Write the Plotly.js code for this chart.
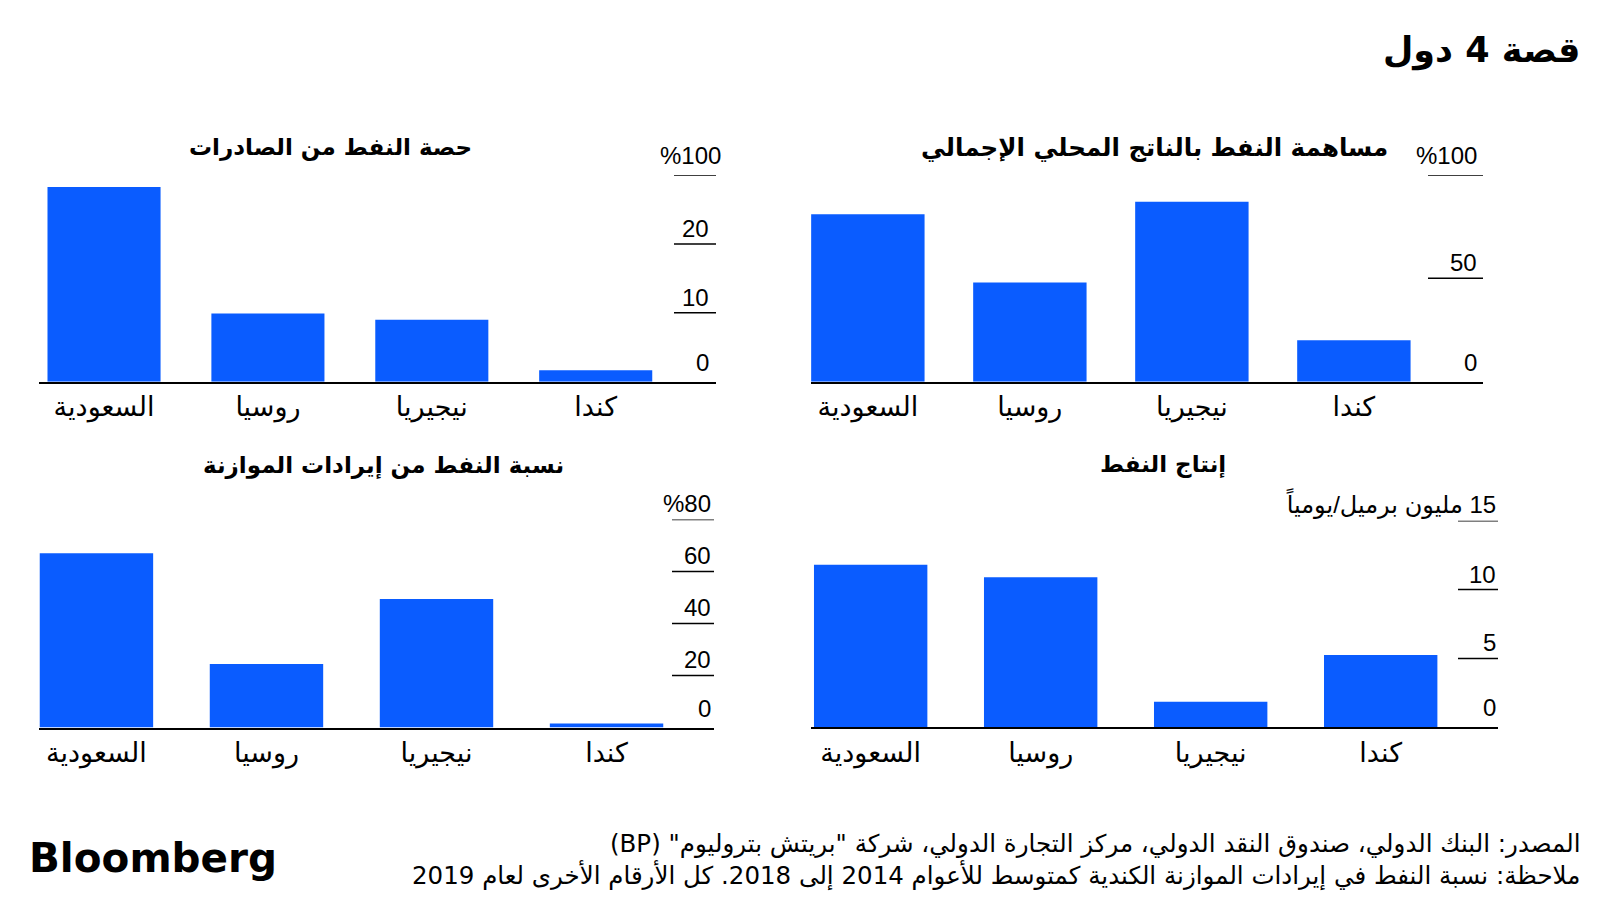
<!DOCTYPE html>
<html>
<head>
<meta charset="utf-8">
<script src="https://cdn.plot.ly/plotly-3.0.1.min.js"></script>
<style>
  html, body { margin: 0; padding: 0; background: #fff; }
  #chart { width: 1600px; height: 900px; }
</style>
</head>
<body>
<div id="chart"></div>
<script>
/* ---------- data ---------- */

const countries = ['السعودية', 'روسيا', 'نيجيريا', 'كندا'];

const gdpShare = [81, 48, 87, 20];
const exportShare = [86, 9.9, 9, 1.65];
const oilOutput = [11.8, 10.9, 1.85, 5.25];
const budgetShare = [67, 24.4, 49.4, 1.5];

const gdpTicks = [0, 50, 100];
const gdpTickText = ['0', '50', '%100'];
const exportTicks = [0, 10, 20, 100];
const exportTickText = ['0', '10', '20', '%100'];
const outputTicks = [0, 5, 10, 15];
const outputTickText = ['0', '5', '10', '15 مليون برميل/يومياً'];
const budgetTicks = [0, 20, 40, 60, 80];
const budgetTickText = ['0', '20', '40', '60', '%80'];

/* ---------- style ---------- */

const W = 1600, H = 900;
const BAR_BLUE = '#0A5CFF';
const NUM_FONT = 'Liberation Sans, DejaVu Sans, sans-serif';
const AR_FONT = 'DejaVu Sans, sans-serif';

// wrap mixed Arabic/Latin text in a right-to-left embedding
const rtl = s => '\u202B' + s + '\u202C';
const px = x => x / W;
const py = y => 1 - y / H;

// exports panel uses a broken axis: 20..100 squeezed into one step
const linear = v => v;
const squash = v => (v <= 20 ? v : 20 + (v - 20) / 8);

const panels = [
    { title: 'مساهمة النفط بالناتج المحلي الإجمالي', values: gdpShare, ticks: gdpTicks, tickText: gdpTickText, scale: linear,
      xPx: [811, 1483], yPx: [175, 381.7], range: [-0.351, 3.797], gap: 0.3, tickLine: 55, inset: 4, topInset: 4, topShift: 4,
      titleX: 1390, titleY: 147, titleSize: 24.5 },
    { title: 'حصة النفط من الصادرات', values: exportShare, ticks: exportTicks, tickText: exportTickText, scale: squash,
      xPx: [38.8, 716], yPx: [175, 381.7], range: [-0.398, 3.734], gap: 0.31, tickLine: 42, inset: 5, topInset: -7, topShift: 4,
      titleX: 474, titleY: 147, titleSize: 23 },
    { title: 'إنتاج النفط', values: oilOutput, ticks: outputTicks, tickText: outputTickText, scale: linear,
      xPx: [811, 1498], yPx: [520.7, 727.3], range: [-0.351, 3.69], gap: 0.333, tickLine: 40, inset: 0, topInset: 0, topShift: 0,
      titleX: 1228, titleY: 464, titleSize: 23 },
    { title: 'نسبة النفط من إيرادات الموازنة', values: budgetShare, ticks: budgetTicks, tickText: budgetTickText, scale: linear,
      xPx: [38.8, 714], yPx: [519.4, 727.5], range: [-0.339, 3.632], gap: 0.333, tickLine: 42, inset: 1, topInset: 1, topShift: 0,
      titleX: 566, titleY: 465, titleSize: 23 }
];

/* ---------- build ---------- */

const data = [];
const shapes = [];
const annotations = [];
const layout = {
    width: W,
    height: H,
    margin: { t: 0, r: 0, b: 0, l: 0 },
    paper_bgcolor: '#fff',
    plot_bgcolor: 'rgba(0,0,0,0)',
    showlegend: false,
    font: { family: AR_FONT, color: '#000' }
};

panels.forEach((p, i) => {
    const n = i === 0 ? '' : String(i + 1);
    const yref = 'y' + n;
    const last = p.ticks.length - 1;

    data.push({
        type: 'bar',
        x: countries,
        y: p.values.map(p.scale),
        width: 1 - p.gap,
        xaxis: 'x' + n,
        yaxis: yref,
        marker: { color: BAR_BLUE },
        hoverinfo: 'none'
    });

    layout['xaxis' + n] = {
        domain: [px(p.xPx[0]), px(p.xPx[1])],
        range: p.range,
        anchor: yref,
        type: 'category',
        showline: true,
        linecolor: '#000',
        linewidth: 2,
        ticks: '',
        showgrid: false,
        zeroline: false,
        tickfont: { family: AR_FONT, size: 27, color: '#000' },
        fixedrange: true
    };
    layout['yaxis' + n] = {
        domain: [py(p.yPx[1]), py(p.yPx[0])],
        range: [0, p.scale(p.ticks[last])],
        anchor: 'x' + n,
        visible: false,
        fixedrange: true
    };

    p.ticks.forEach((t, k) => {
        const isTop = k === last;
        if (t > 0) {
            shapes.push({
                type: 'line', xref: 'paper', yref: yref,
                x0: px(p.xPx[1] - p.tickLine), x1: px(p.xPx[1]),
                y0: p.scale(t), y1: p.scale(t),
                line: { color: '#000', width: 1.5 }
            });
        }
        annotations.push({
            xref: 'paper', yref: yref,
            x: px(p.xPx[1] - (isTop ? p.topInset : p.inset)), y: p.scale(t),
            xanchor: 'right', yanchor: 'bottom',
            yshift: t === 0 ? 4 : (isTop ? p.topShift : 0),
            text: rtl(p.tickText[k]),
            showarrow: false,
            font: { family: NUM_FONT, size: 24, color: '#000' }
        });
    });

    annotations.push({
        xref: 'paper', yref: 'paper',
        x: px(p.titleX), y: py(p.titleY),
        xanchor: 'right', yanchor: 'middle',
        text: '<b>' + p.title + '</b>',
        showarrow: false,
        font: { family: AR_FONT, size: p.titleSize, color: '#000' }
    });
});

// chart title, source and logo
annotations.push(
    { xref: 'paper', yref: 'paper', x: px(1582), y: py(50), xanchor: 'right', yanchor: 'middle',
      text: '<b>' + rtl('قصة 4 دول') + '</b>', showarrow: false,
      font: { family: AR_FONT, size: 35, color: '#000' } },
    { xref: 'paper', yref: 'paper', x: px(1582), y: py(843), xanchor: 'right', yanchor: 'middle',
      text: rtl('المصدر: البنك الدولي، صندوق النقد الدولي، مركز التجارة الدولي، شركة "بريتش بتروليوم" (BP)'),
      showarrow: false, font: { family: AR_FONT, size: 24.5, color: '#000' } },
    { xref: 'paper', yref: 'paper', x: px(1582), y: py(875), xanchor: 'right', yanchor: 'middle',
      text: rtl('ملاحظة: نسبة النفط في إيرادات الموازنة الكندية كمتوسط للأعوام 2014 إلى 2018. كل الأرقام الأخرى لعام 2019'),
      showarrow: false, font: { family: AR_FONT, size: 24.5, color: '#000' } },
    { xref: 'paper', yref: 'paper', x: px(27), y: py(858), xanchor: 'left', yanchor: 'middle',
      text: '<b>Bloomberg</b>', showarrow: false,
      font: { family: 'DejaVu Sans, sans-serif', size: 40.5, color: '#000' } }
);

layout.shapes = shapes;
layout.annotations = annotations;

Plotly.newPlot('chart', data, layout, { displayModeBar: false, staticPlot: true });
</script>
</body>
</html>
